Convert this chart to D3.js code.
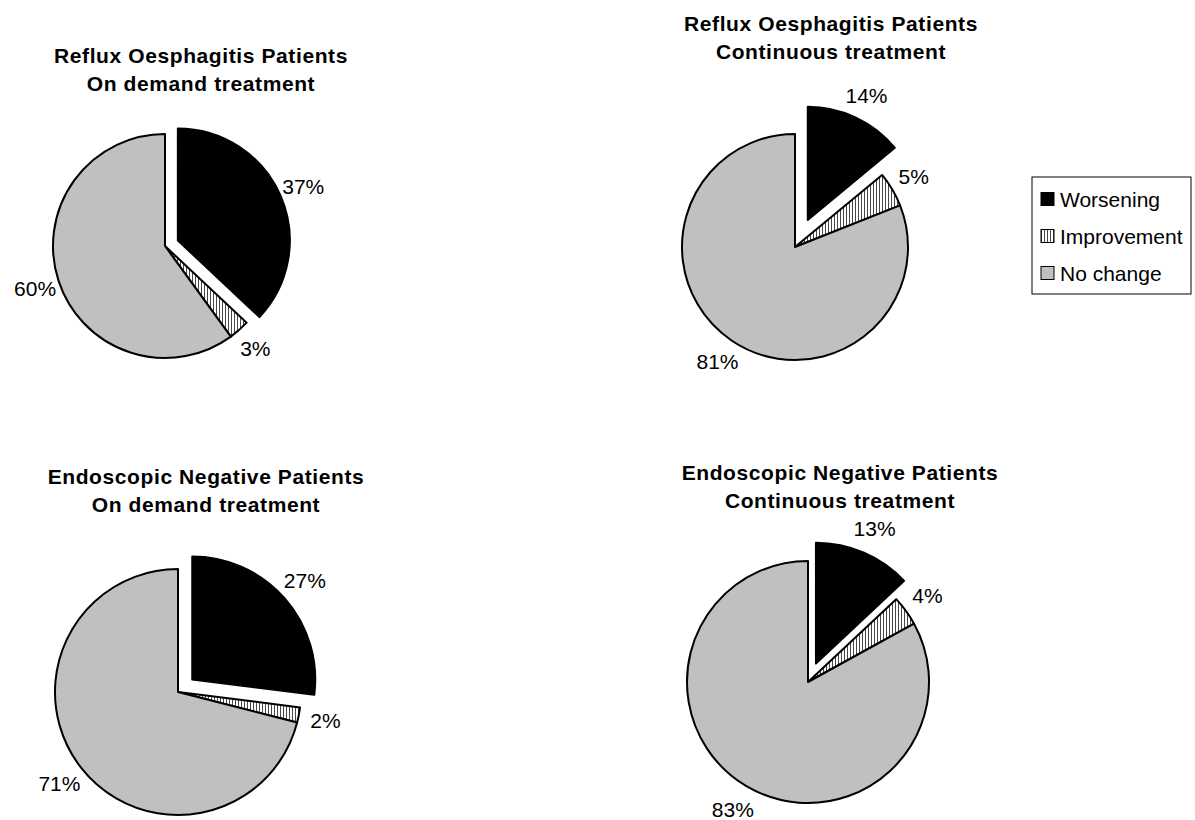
<!DOCTYPE html>
<html>
<head>
<meta charset="utf-8">
<script src="https://cdn.jsdelivr.net/npm/d3@7"></script>
<style>
  html, body { margin: 0; padding: 0; background: #ffffff; }
  svg { display: block; font-family: "Liberation Sans", Arial, sans-serif; }
</style>
</head>
<body>
<svg id="chart" width="1195" height="820"></svg>
<script>
// Outcome categories (slice order, clockwise from 12 o'clock)
const categories = ["Worsening", "Improvement", "No change"];

// Percentage of patients per outcome, one array per panel
const refluxOnDemand       = [37, 3, 60];
const refluxContinuous     = [14, 5, 81];
const endoNegOnDemand      = [27, 2, 71];
const endoNegContinuous    = [13, 4, 83];

// Panel titles (two lines each)
const titleRefluxOnDemand    = ["Reflux Oesphagitis Patients", "On demand treatment"];
const titleRefluxContinuous  = ["Reflux Oesphagitis Patients", "Continuous treatment"];
const titleEndoOnDemand      = ["Endoscopic Negative Patients", "On demand treatment"];
const titleEndoContinuous    = ["Endoscopic Negative Patients", "Continuous treatment"];

// Panel geometry: pie centre, radius, how far the first slice is pulled out,
// and where the title block is centred.
const panels = [
  { values: refluxOnDemand,    title: titleRefluxOnDemand,   cx: 165, cy: 246, r: 112, explode: 14, tx: 201, ty: 55 },
  { values: refluxContinuous,  title: titleRefluxContinuous, cx: 795, cy: 247, r: 113, explode: 30, tx: 831, ty: 23 },
  { values: endoNegOnDemand,   title: titleEndoOnDemand,     cx: 178, cy: 692, r: 123, explode: 19, tx: 206, ty: 476 },
  { values: endoNegContinuous, title: titleEndoContinuous,   cx: 808, cy: 682, r: 121, explode: 20, tx: 840, ty: 472 }
];

const labelRadius = 1.22;   // label centre distance, as a multiple of the radius

const svg = d3.select("#chart");

// Vertical-line hatch used for the "Improvement" slices
const defs = svg.append("defs");
const hatch = defs.append("pattern")
  .attr("id", "vhatch")
  .attr("patternUnits", "userSpaceOnUse")
  .attr("width", 3).attr("height", 3);
hatch.append("rect").attr("width", 3).attr("height", 3).attr("fill", "#ffffff");
hatch.append("line")
  .attr("x1", 0.5).attr("y1", 0).attr("x2", 0.5).attr("y2", 3)
  .attr("stroke", "#333333").attr("stroke-width", 0.9);

const fill = d3.scaleOrdinal()
  .domain(categories)
  .range(["#000000", "url(#vhatch)", "#c0c0c0"]);

const pie = d3.pie().sort(null).value(d => d.value);

panels.forEach(p => {
  const g = svg.append("g").attr("transform", `translate(${p.cx},${p.cy})`);
  const rows = categories.map((c, i) => ({ category: c, value: p.values[i] }));
  const arcs = pie(rows);
  const arc = d3.arc().innerRadius(0).outerRadius(p.r);

  const offset = (d, dist) => {
    const a = (d.startAngle + d.endAngle) / 2;
    return [Math.sin(a) * dist, -Math.cos(a) * dist];
  };
  const pull = d => (d.index === 0 ? p.explode : 0);

  g.selectAll("path.slice")
    .data(arcs)
    .join("path")
    .attr("class", "slice")
    .attr("d", arc)
    .attr("transform", d => {
      const [dx, dy] = offset(d, pull(d));
      return `translate(${dx},${dy})`;
    })
    .attr("fill", d => fill(d.data.category))
    .attr("stroke", "#000000")
    .attr("stroke-width", 2)
    .attr("stroke-linejoin", "round");

  g.selectAll("text.pct")
    .data(arcs)
    .join("text")
    .attr("class", "pct")
    .attr("x", d => offset(d, p.r * labelRadius + pull(d))[0])
    .attr("y", d => offset(d, p.r * labelRadius + pull(d))[1])
    .attr("text-anchor", "middle")
    .attr("dominant-baseline", "central")
    .attr("font-size", 21)
    .attr("fill", "#000000")
    .text(d => `${d.data.value}%`);

  const t = svg.append("text")
    .attr("text-anchor", "middle")
    .attr("font-size", 21)
    .attr("font-weight", "bold")
    .attr("letter-spacing", 0.6)
    .attr("fill", "#000000");
  p.title.forEach((line, i) => {
    t.append("tspan")
      .attr("x", p.tx)
      .attr("y", p.ty + i * 28)
      .attr("dominant-baseline", "central")
      .text(line);
  });
});

// Legend
const legend = svg.append("g").attr("transform", "translate(1032,177)");
legend.append("rect")
  .attr("width", 159).attr("height", 117)
  .attr("fill", "#ffffff").attr("stroke", "#000000").attr("stroke-width", 1);
const item = legend.selectAll("g.item")
  .data(categories)
  .join("g")
  .attr("class", "item")
  .attr("transform", (d, i) => `translate(9,${22 + i * 37})`);
item.append("rect")
  .attr("x", 0).attr("y", -6.5)
  .attr("width", 13).attr("height", 13)
  .attr("fill", d => fill(d))
  .attr("stroke", "#000000").attr("stroke-width", 1);
item.append("text")
  .attr("x", 19).attr("y", 0)
  .attr("dominant-baseline", "central")
  .attr("font-size", 21)
  .attr("fill", "#000000")
  .text(d => d);
</script>
</body>
</html>
